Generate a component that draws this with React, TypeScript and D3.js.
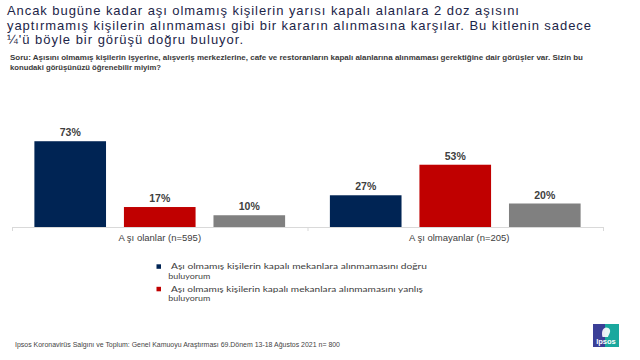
import React from "react";
import * as d3 from "d3";

const titleLines = [
  "Ancak bugüne kadar aşı olmamış kişilerin yarısı kapalı alanlara 2 doz aşısını",
  "yaptırmamış kişilerin alınmaması gibi bir kararın alınmasına karşılar. Bu kitlenin sadece",
  "¼'ü böyle bir görüşü doğru buluyor.",
];
const questionLines = [
  "Soru: Aşısını olmamış kişilerin işyerine, alışveriş merkezlerine, cafe ve restoranların kapalı alanlarına alınmaması gerektiğine dair görüşler var. Sizin bu",
  "konudaki görüşünüzü öğrenebilir miyim?",
];
const categories = ["A şı olanlar (n=595)", "A şı olmayanlar (n=205)"];
const seriesNames = ["dogru", "yanlis", "diger"];
const dogruValues = [73, 27];
const yanlisValues = [17, 53];
const digerValues = [10, 20];
const legendLabels = [
  ["Aşı olmamış kişilerin kapalı mekanlara alınmamasını doğru", "buluyorum"],
  ["Aşı olmamış kişilerin kapalı mekanlara alınmamasını yanlış", "buluyorum"],
];
const footerText =
  "Ipsos Koronavirüs Salgını ve Toplum: Genel Kamuoyu Araştırması 69.Dönem 13-18 Ağustos 2021   n= 800";

const colors: Record<string, string> = {
  dogru: "#002454",
  yanlis: "#c00000",
  diger: "#808080",
};

export default function App() {
  const W = 640;
  const H = 360;
  const axisY = 227;
  const x0 = d3.scaleBand<string>().domain(categories).range([12, 603]).paddingInner(0).paddingOuter(0);
  const x1 = d3
    .scaleBand<string>()
    .domain(seriesNames)
    .range([0, x0.bandwidth()])
    .paddingInner(0.2)
    .paddingOuter(0.25);
  const y = d3.scaleLinear().domain([0, 100]).range([axisY, axisY - 117.5]);

  const valuesBySeries: Record<string, number[]> = {
    dogru: dogruValues,
    yanlis: yanlisValues,
    diger: digerValues,
  };

  const titleWidths = [512, 584, 236];
  const qWidths = [573, 151];
  const tickXs = [12, ...categories.map((c) => (x0(c) as number) + x0.bandwidth())];

  return (
    <svg width={W} height={H} style={{ position: "absolute", left: 0, top: 0, background: "#fff" }}>
      <rect x={0} y={0} width={W} height={H} fill="#fff" />
      {titleLines.map((t, i) => (
        <text
          key={i}
          x={7}
          y={15.3 + i * 14.4}
          fontFamily="'Liberation Sans', Arial, sans-serif"
          fontSize={13}
          fill="#1c2548"
          textLength={titleWidths[i]}
          lengthAdjust="spacing"
        >
          {t}
        </text>
      ))}
      {questionLines.map((t, i) => (
        <text
          key={i}
          x={10}
          y={60 + i * 9.5}
          fontFamily="'Liberation Sans', Arial, sans-serif"
          fontSize={7}
          fontWeight="bold"
          fill="#3a3a3a"
          textLength={qWidths[i]}
          lengthAdjust="spacingAndGlyphs"
        >
          {t}
        </text>
      ))}

      {categories.map((c, ci) => (
        <g key={c} transform={`translate(${x0(c)},0)`}>
          {seriesNames.map((s) => {
            const v = valuesBySeries[s][ci];
            const bx = x1(s) as number;
            return (
              <g key={s}>
                <rect x={bx} y={y(v)} width={x1.bandwidth()} height={axisY - y(v)} fill={colors[s]} />
                <text
                  x={bx + x1.bandwidth() / 2}
                  y={y(v) - 5}
                  textAnchor="middle"
                  fontFamily="'Liberation Sans', Arial, sans-serif"
                  fontSize={10.5}
                  fontWeight="bold"
                  fill="#404040"
                >
                  {v}%
                </text>
              </g>
            );
          })}
          <text
            x={x0.bandwidth() / 2 + (ci === 1 ? 4 : 0)}
            y={240.5}
            textAnchor="middle"
            fontFamily="'Liberation Sans', Arial, sans-serif"
            fontSize={9.5}
            fill="#404040"
          >
            {c}
          </text>
        </g>
      ))}
      <line x1={12} x2={603} y1={axisY + 0.5} y2={axisY + 0.5} stroke="#d9d9d9" strokeWidth={1} />
      {tickXs.map((tx, i) => (
        <line key={i} x1={tx + 0.5} x2={tx + 0.5} y1={axisY} y2={axisY + 4} stroke="#d9d9d9" strokeWidth={1} />
      ))}

      {legendLabels.map((lines, i) => (
        <g key={i}>
          <rect x={156.5} y={264.3 + i * 22.5} width={4.5} height={4.5} fill={colors[seriesNames[i]]} />
          <text
            x={171}
            y={269.2 + i * 22.3}
            fontFamily="Lato, 'Open Sans', sans-serif"
            fontSize={8}
            fill="#404040"
            textLength={i === 0 ? 256 : 252}
            lengthAdjust="spacingAndGlyphs"
          >
            {lines[0]}
          </text>
          <text
            x={168.3}
            y={278.8 + i * 22.3}
            fontFamily="Lato, 'Open Sans', sans-serif"
            fontSize={8}
            fill="#404040"
            textLength={42}
            lengthAdjust="spacingAndGlyphs"
          >
            {lines[1]}
          </text>
        </g>
      ))}

      <text
        x={15}
        y={347}
        fontFamily="'Liberation Sans', Arial, sans-serif"
        fontSize={6.5}
        fill="#444"
        textLength={325}
        lengthAdjust="spacingAndGlyphs"
      >
        {footerText}
      </text>

      <g transform="translate(593,324)">
        <rect x={0} y={0} width={26} height={23} fill="#3b3f97" />
        <rect x={12} y={0} width={14} height={23} fill="#1aa89e" />
        <path d="M9.5,13 C8.5,9 9,4 13,3.5 C17,3.5 18,7 16.5,9.5 C16,11 15,12 15,13 Z" fill="#fff" opacity={0.9} />
        <text
          x={13}
          y={20}
          textAnchor="middle"
          fontFamily="'Liberation Sans', Arial, sans-serif"
          fontSize={7.5}
          fontWeight="bold"
          fill="#fff"
        >
          Ipsos
        </text>
      </g>
    </svg>
  );
}
